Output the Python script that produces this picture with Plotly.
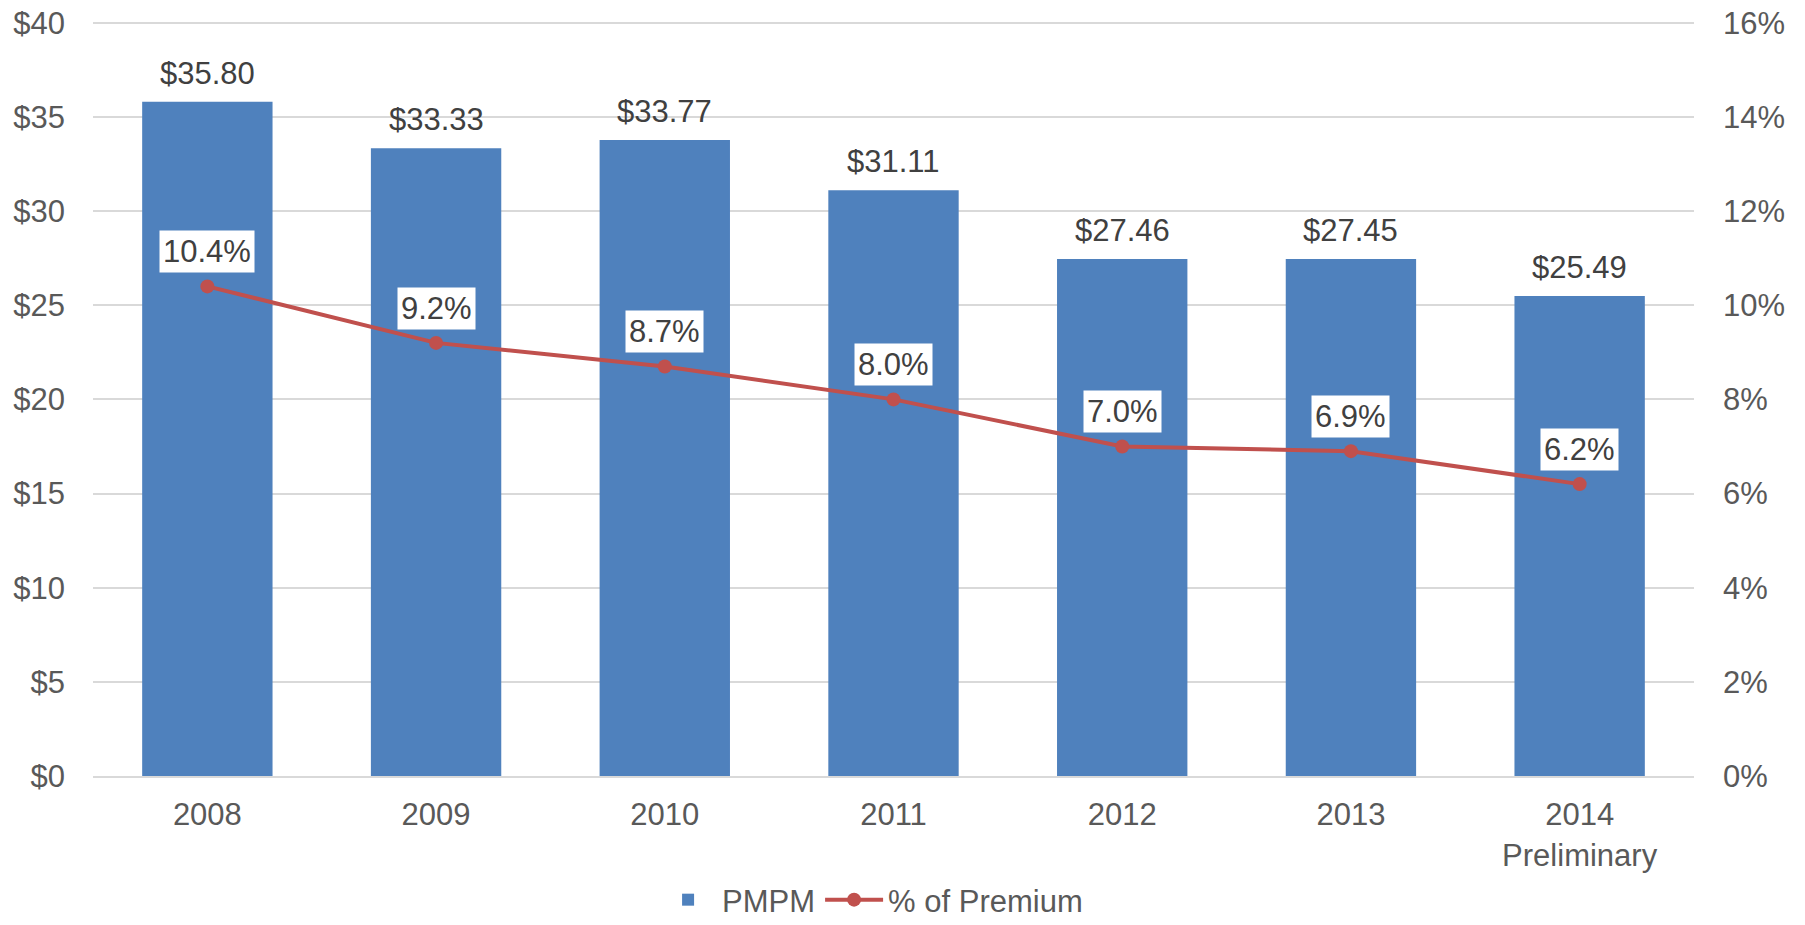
import plotly.graph_objects as go

categories = ["2008", "2009", "2010", "2011", "2012", "2013", "2014<br>Preliminary"]
pmpm = [35.80, 33.33, 33.77, 31.11, 27.46, 27.45, 25.49]
pct_premium = [10.4, 9.2, 8.7, 8.0, 7.0, 6.9, 6.2]
left_ticks = [0, 5, 10, 15, 20, 25, 30, 35, 40]
right_ticks = [0, 2, 4, 6, 8, 10, 12, 14, 16]

BAR = "#4F81BD"
LINE = "#C0504D"
AXIS_TXT = "#595959"
LBL_TXT = "#404040"
FONT = "Liberation Sans, Arial, sans-serif"
FS = 31

xpos = list(range(len(categories)))

fig = go.Figure()
fig.add_trace(go.Bar(
    x=xpos, y=pmpm, name="PMPM", marker=dict(color=BAR, line=dict(width=0)),
    yaxis="y", width=0.57,
))
fig.add_trace(go.Scatter(
    x=xpos, y=pct_premium, name="% of Premium", mode="lines+markers",
    line=dict(color=LINE, width=4), marker=dict(color=LINE, size=14),
    yaxis="y2",
))

annotations = []
for i, v in zip(xpos, pmpm):
    annotations.append(dict(
        x=i, y=v, xref="x", yref="y", text=f"${v:.2f}", showarrow=False,
        yanchor="bottom", yshift=9, font=dict(family=FONT, size=FS, color=LBL_TXT),
    ))
for i, v in zip(xpos, pct_premium):
    annotations.append(dict(
        x=i, y=v, xref="x", yref="y2", text=f"{v:.1f}%", showarrow=False,
        yanchor="bottom", yshift=13, bgcolor="white", borderpad=3,
        font=dict(family=FONT, size=FS, color=LBL_TXT),
    ))

fig.update_layout(
    width=1805, height=925,
    margin=dict(l=93, r=111, t=19, b=149, autoexpand=False),
    paper_bgcolor="white", plot_bgcolor="white",
    font=dict(family=FONT, size=FS, color=AXIS_TXT),
    showlegend=True,
    legend=dict(orientation="h", x=0.486, xanchor="center", y=0.027, yanchor="middle",
                yref="container",
                font=dict(family=FONT, size=FS, color=AXIS_TXT), itemwidth=58,
                traceorder="normal"),
    xaxis=dict(range=[-0.5, len(categories) - 0.5], tickvals=xpos, ticktext=categories,
               showgrid=False, showline=True, linecolor="#D9D9D9", linewidth=2, zeroline=False,
               ticks="", ticklabelstandoff=10, automargin=False, ticklabeloverflow="allow",
               tickfont=dict(family=FONT, size=FS, color=AXIS_TXT)),
    yaxis=dict(range=[0, 40.2], tickvals=left_ticks, ticktext=[f"${t}" for t in left_ticks],
               showgrid=True, gridcolor="#D9D9D9", gridwidth=2, zeroline=False,
               ticks="", ticklabelstandoff=27, automargin=False, ticklabeloverflow="allow",
               tickfont=dict(family=FONT, size=FS, color=AXIS_TXT)),
    yaxis2=dict(range=[0, 16.08], tickvals=right_ticks, ticktext=[f"{t}%" for t in right_ticks],
                overlaying="y", side="right", showgrid=False, zeroline=False,
                ticks="", ticklabelstandoff=28, automargin=False, ticklabeloverflow="allow",
                tickfont=dict(family=FONT, size=FS, color=AXIS_TXT)),
    annotations=annotations,
)

fig.write_html("out.html", config={"displayModeBar": False},
               post_script="document.body.style.margin='0';")
